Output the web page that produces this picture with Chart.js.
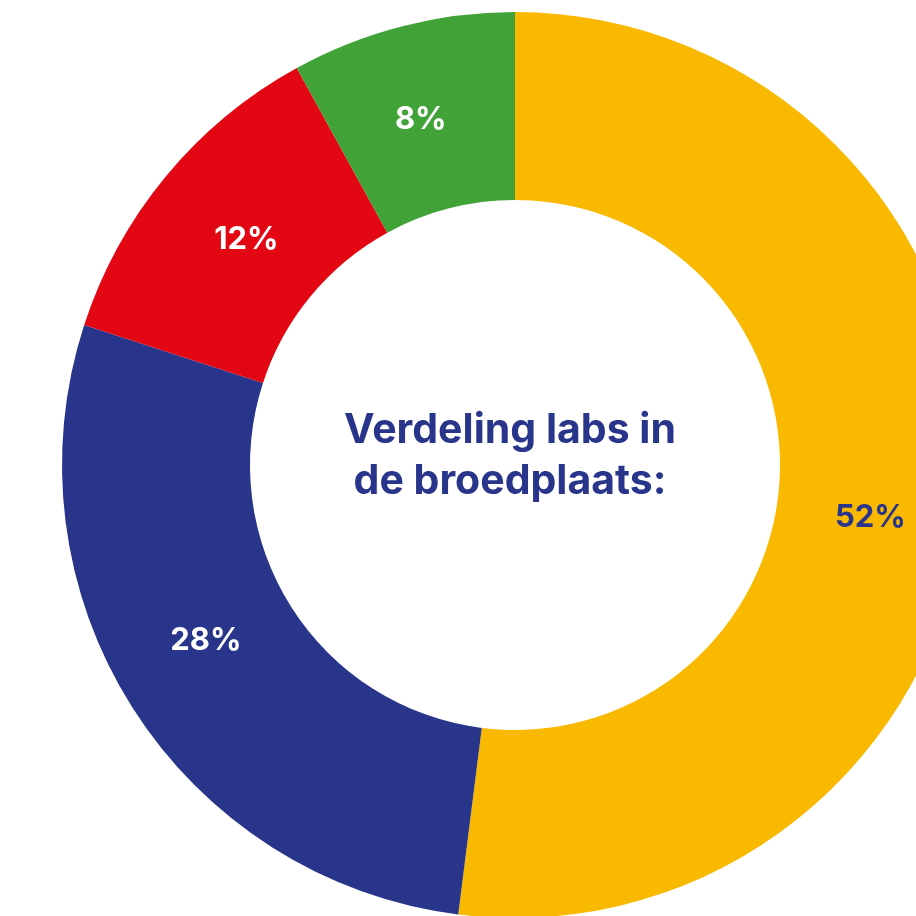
<!DOCTYPE html>
<html>
<head>
<meta charset="utf-8">
<script src="https://cdn.jsdelivr.net/npm/chart.js@4"></script>
<style>
  html, body { margin: 0; padding: 0; overflow: hidden; background: #ffffff; width: 916px; height: 916px; }
  #wrap { position: absolute; left: 0; top: 0; width: 1030px; height: 930px; }
</style>
</head>
<body>
<div id="wrap"><canvas id="chart"></canvas></div>
<script>
const categories = ['Geel', 'Blauw', 'Rood', 'Groen'];
const shares = [52, 28, 12, 8];
const label_text = ['52%', '28%', '12%', '8%'];
const slice_color = ['#f9b900', '#28358a', '#e30613', '#41a337'];
const label_color = ['#28358a', '#ffffff', '#ffffff', '#ffffff'];
const center_lines = ['Verdeling labs in', 'de broedplaats:'];

// small hand nudges of the slice labels, like in the original artwork
const label_nudge = [[-3, 30], [-6, -17], [8, 4], [-5, 2]];

const font_family = 'Inter, "Open Sans", sans-serif';

// draws the percentage on every slice, at the middle of the ring
const sliceLabels = {
  id: 'sliceLabels',
  afterDatasetsDraw(chart) {
    var ctx = chart.ctx;
    var meta = chart.getDatasetMeta(0);
    ctx.save();
    ctx.font = '700 31px ' + font_family;
    ctx.textAlign = 'center';
    ctx.textBaseline = 'middle';
    meta.data.forEach(function (arc, i) {
      var p = arc.tooltipPosition();
      ctx.fillStyle = label_color[i];
      ctx.fillText(label_text[i], p.x + label_nudge[i][0], p.y + label_nudge[i][1]);
    });
    ctx.restore();
  }
};

// title in the hole
const centerText = {
  id: 'centerText',
  afterDatasetsDraw(chart) {
    var ctx = chart.ctx;
    var arc = chart.getDatasetMeta(0).data[0];
    ctx.save();
    ctx.font = '700 41px ' + font_family;
    ctx.fillStyle = '#28358a';
    ctx.textAlign = 'center';
    ctx.textBaseline = 'middle';
    ctx.fillText(center_lines[0], arc.x - 5, arc.y - 34);
    ctx.fillText(center_lines[1], arc.x - 5, arc.y + 17);
    ctx.restore();
  }
};

new Chart(document.getElementById('chart'), {
  type: 'doughnut',
  data: {
    labels: categories,
    datasets: [{
      data: shares,
      backgroundColor: slice_color,
      borderWidth: 0,
      hoverOffset: 0
    }]
  },
  options: {
    responsive: true,
    maintainAspectRatio: false,
    animation: false,
    cutout: '58.5%',
    layout: { padding: 12 },
    plugins: {
      legend: { display: false },
      tooltip: { enabled: false }
    }
  },
  plugins: [sliceLabels, centerText]
});
</script>
</body>
</html>
